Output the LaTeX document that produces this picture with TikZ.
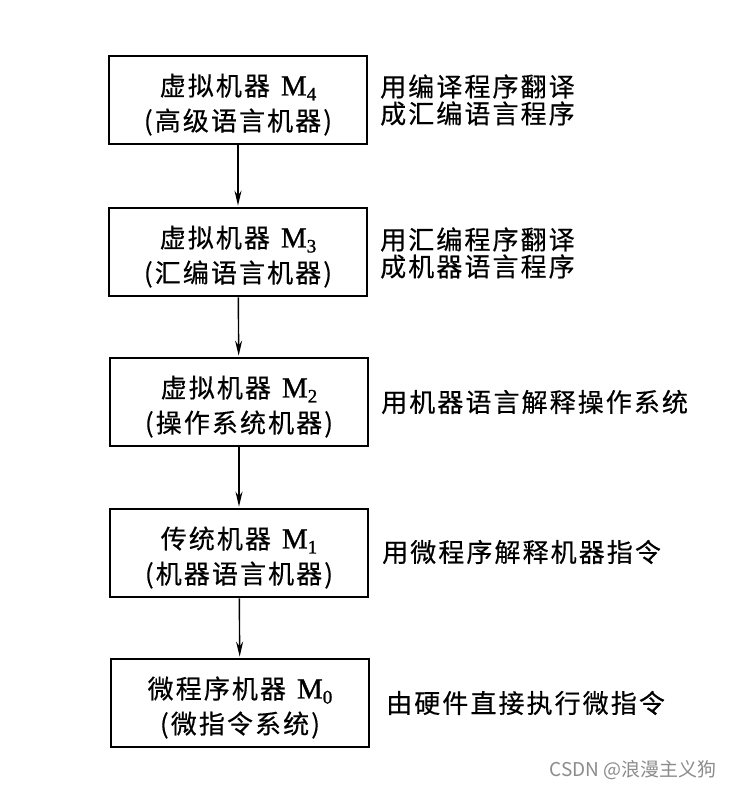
\documentclass[tikz,border=0pt]{standalone}
\usepackage{fontspec}
\usepackage{graphicx}
\usetikzlibrary{arrows.meta}
\setmainfont{Liberation Serif}
\newfontfamily\cjk[LetterSpace=8,FakeBold=0.4]{Noto Sans CJK SC}
\newfontfamily\mfont[FakeBold=1.2]{Liberation Serif}
\newfontfamily\wmfont{Noto Sans CJK SC}
\newcommand\Msub[1]{{\mfont\fontsize{29}{29}\selectfont M\raisebox{-5pt}{\fontsize{19}{19}\selectfont #1}}}
\newcommand\topstrut{\rule{0pt}{31pt}}
\newcommand\mgap{\hspace{11pt}}
\tikzset{
  box/.style={draw, line width=2.8pt, minimum width=258pt, minimum height=88pt,
    inner sep=0pt, align=center, font=\fontsize{26}{35}\selectfont},
  note/.style={anchor=west, align=left, inner sep=0pt, font=\cjk\fontsize{26}{27}\selectfont},
  arr/.style={line width=1.4pt, -{Stealth[length=15pt,width=7pt]}, shorten >=1pt},
}
\begin{document}
\begin{tikzpicture}[x=1pt,y=-1pt]
\useasboundingbox[fill=white] (0,0) rectangle (733,790);
\node[box] (b4) at (238,100) {\topstrut{\cjk 虚拟机器}\mgap\Msub{4}\\{\cjk (高级语言机器)}};
\node[box] (b3) at (238,252) {\topstrut{\cjk 虚拟机器}\mgap\Msub{3}\\{\cjk (汇编语言机器)}};
\node[box] (b2) at (239,402) {\topstrut{\cjk 虚拟机器}\mgap\Msub{2}\\{\cjk (操作系统机器)}};
\node[box] (b1) at (239,553) {\topstrut{\cjk 传统机器}\mgap\Msub{1}\\{\cjk (机器语言机器)}};
\node[box] (b0) at (240,703) {\topstrut{\cjk 微程序机器}\mgap\Msub{0}\\{\cjk (微指令系统)}};
\draw[arr] (b4) -- (b3);
\draw[arr] (b3) -- (b2);
\draw[arr] (b2) -- (b1);
\draw[arr] (b1) -- (b0);
\node[note] (t4) at (380,100) {用编译程序翻译\\成汇编语言程序};
\node[note] (t3) at (380,253) {用汇编程序翻译\\成机器语言程序};
\node[note] (t2) at (381,402) {用机器语言解释操作系统};
\node[note] (t1) at (382,552) {用微程序解释机器指令};
\node[note] (t0) at (386,703) {由硬件直接执行微指令};
\node[font=\wmfont\fontsize{19}{19}\selectfont, text=black!45, inner sep=0pt] (wm) at (633,770) {CSDN @浪漫主义狗};
\end{tikzpicture}
\end{document}
